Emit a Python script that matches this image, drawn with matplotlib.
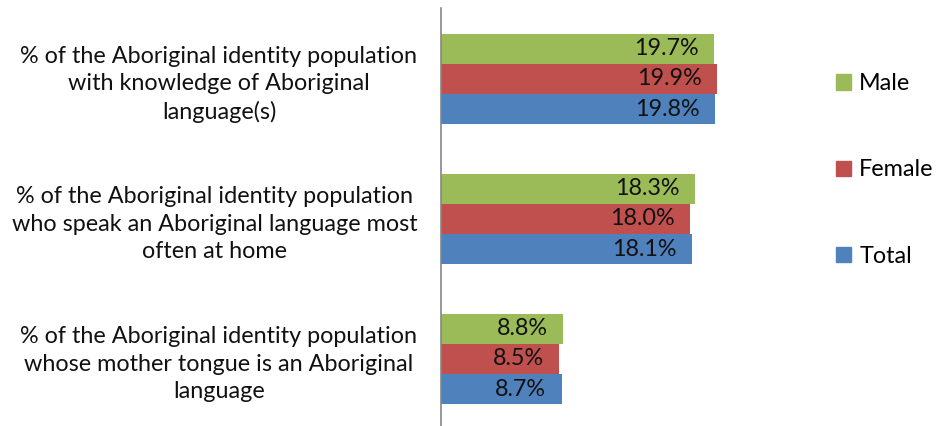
import numpy as np
import matplotlib

matplotlib.use("Agg")
import matplotlib.pyplot as plt
from matplotlib.patches import Patch

plt.rcParams["font.family"] = ["Lato", "DejaVu Sans"]

categories = [
    "% of the Aboriginal identity population\nwith knowledge of Aboriginal\nlanguage(s)",
    "% of the Aboriginal identity population\nwho speak an Aboriginal language most\noften at home",
    "% of the Aboriginal identity population\nwhose mother tongue is an Aboriginal\nlanguage",
]
male = [19.7, 18.3, 8.8]
female = [19.9, 18.0, 8.5]
total = [19.8, 18.1, 8.7]

series = [("Male", male, "#9BBB59"), ("Female", female, "#C0504D"), ("Total", total, "#4F81BD")]

fig = plt.figure(figsize=(9.37, 4.26), dpi=100)
ax = fig.add_axes([441 / 937, 0.0, (790 - 441) / 937, 1 - 8 / 426])

y = np.arange(len(categories))
h = 0.216
fs = 16.8
for i, (name, vals, col) in enumerate(series):
    pos = y + (i - 1) * h
    bars = ax.barh(pos, vals, height=h, color=col, label=name)
    for b, v in zip(bars, vals):
        ax.annotate(f"{v:.1f}%", (v, b.get_y() + b.get_height() / 2),
                    xytext=(-11, 0), textcoords="offset points",
                    ha="right", va="center", fontsize=fs, color="#111111")

ax.set_xlim(0, (790 - 441) / 13.86)
ax.set_ylim(2.479, -0.507)
ax.set_yticks(y)
ax.set_yticklabels(categories, fontsize=fs, multialignment="center",
                   linespacing=1.37, color="#111111")
ax.tick_params(axis="y", length=0, pad=17)
ax.set_xticks([])
for s in ["top", "right", "bottom"]:
    ax.spines[s].set_visible(False)
ax.spines["left"].set_color("#868686")
ax.spines["left"].set_linewidth(1.2)

handles = [Patch(color=c, label=n) for n, _, c in series]
fig.legend(handles=handles, loc="center left", bbox_to_anchor=(836 / 937, 1 - 170 / 426),
           frameon=False, fontsize=fs, handlelength=0.65, handleheight=0.65,
           handletextpad=0.35, labelspacing=2.8, borderpad=0, borderaxespad=0)

fig.savefig("out.png", dpi=100)
